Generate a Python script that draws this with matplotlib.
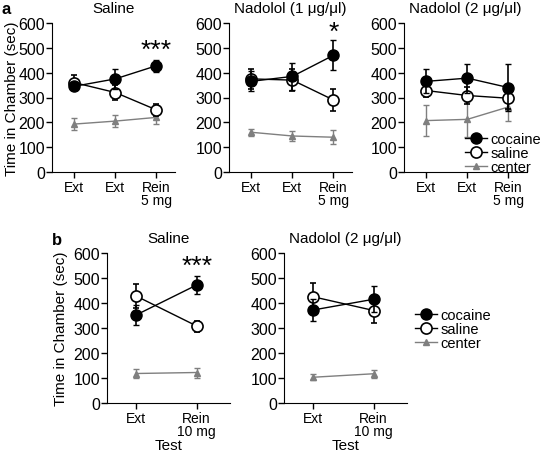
import matplotlib
matplotlib.use('Agg')
import matplotlib.pyplot as plt
from matplotlib.lines import Line2D

plt.rcParams['font.family'] = ['Liberation Sans', 'DejaVu Sans']

# --- data ---
a_ticks = ['Ext', 'Ext', 'Rein\n5 mg']
b_ticks = ['Ext', 'Rein\n10 mg']

a_titles = ['Saline', 'Nadolol (1 \u03bcg/\u03bcl)', 'Nadolol (2 \u03bcg/\u03bcl)']
a_cocaine = [[345, 375, 428], [365, 385, 470], [365, 378, 340]]
a_cocaine_err = [[15, 40, 25], [40, 55, 60], [48, 58, 95]]
a_saline = [[360, 320, 250], [375, 370, 290], [328, 308, 297]]
a_saline_err = [[30, 30, 25], [40, 45, 45], [25, 35, 45]]
a_center = [[193, 205, 220], [160, 145, 140], [207, 212, 262]]
a_center_err = [[25, 25, 25], [15, 20, 28], [62, 70, 58]]
a_stars = ['***', '*', '']
a_star_y = [492, 565, 0]

b_titles = ['Saline', 'Nadolol (2 \u03bcg/\u03bcl)']
b_cocaine = [[352, 472], [372, 415]]
b_cocaine_err = [[40, 35], [45, 52]]
b_saline = [[428, 308], [425, 370]]
b_saline_err = [[48, 22], [55, 50]]
b_center = [[118, 122], [103, 117]]
b_center_err = [[18, 20], [12, 15]]
b_stars = ['***', '']
b_star_y = [548, 0]

W, H = 542, 452
fig = plt.figure(figsize=(W / 100, H / 100), dpi=100)

GRAY = '#7f7f7f'


def panel(rect, title, labels, coc, coc_e, sal, sal_e, cen, cen_e,
          star, star_y, ylabel_x, xlabel, xlim):
    x0, y0, x1, y1 = rect
    ax = fig.add_axes([x0 / W, 1 - y1 / H, (x1 - x0) / W, (y1 - y0) / H])
    xs = list(range(len(labels)))
    ax.errorbar(xs, cen, yerr=cen_e, color=GRAY, marker='^', ms=4,
                lw=1, capsize=2, elinewidth=1, zorder=2)
    ax.errorbar(xs, sal, yerr=sal_e, color='black', marker='o', ms=8,
                mfc='white', mec='black', mew=1.2, lw=1, capsize=2,
                elinewidth=1.2, zorder=3)
    ax.errorbar(xs, coc, yerr=coc_e, color='black', marker='o', ms=8,
                lw=1, capsize=2, elinewidth=1.2, zorder=4)
    ax.set_xlim(*xlim)
    ax.set_ylim(0, 600)
    ax.set_yticks(range(0, 601, 100))
    ax.set_xticks(xs)
    ax.set_xticklabels(labels, fontsize=10, linespacing=0.9)
    ax.tick_params(axis='y', labelsize=11.5, length=4, width=1, pad=1)
    ax.tick_params(axis='x', length=4, width=1, pad=2)
    for s in ('top', 'right'):
        ax.spines[s].set_visible(False)
    ax.set_title(title, fontsize=11, pad=8)
    if star:
        ax.text(xs[-1], star_y, star, ha='center', va='center', fontsize=19)
    if ylabel_x is not None:
        # label anchor is the right-hand edge of the rotated text
        ax.set_ylabel('Time in Chamber (sec)', fontsize=11)
        ax.yaxis.set_label_coords((ylabel_x - x0) / (x1 - x0), 0.5)
    if xlabel:
        ax.set_xlabel('Test', fontsize=11, labelpad=0)
    return ax


a_rects = [(52, 24, 175, 173), (229, 24, 352, 173), (404, 24, 527, 173)]
for i in range(3):
    panel(a_rects[i], a_titles[i], a_ticks, a_cocaine[i], a_cocaine_err[i],
          a_saline[i], a_saline_err[i], a_center[i], a_center_err[i],
          a_stars[i], a_star_y[i], 19 if i == 0 else None, False,
          (-0.54, 2.45))

b_rects = [(107, 254, 230, 404), (284, 254, 407, 404)]
for i in range(2):
    panel(b_rects[i], b_titles[i], b_ticks, b_cocaine[i], b_cocaine_err[i],
          b_saline[i], b_saline_err[i], b_center[i], b_center_err[i],
          b_stars[i], b_star_y[i], 68 if i == 0 else None, True,
          (-0.48, 1.55))

# legends
handles = [
    Line2D([], [], color='black', marker='o', ms=8, lw=1),
    Line2D([], [], color='black', marker='o', ms=8, lw=1, mfc='white', mew=1.2),
    Line2D([], [], color=GRAY, marker='^', ms=4, lw=1),
]
names = ['cocaine', 'saline', 'center']
for (lx, ly) in [(465, 133), (415, 309)]:
    fig.legend(handles, names, loc='upper left',
               bbox_to_anchor=(lx / W, 1 - ly / H), frameon=False,
               fontsize=10.5, handlelength=1.5, handletextpad=0.25,
               labelspacing=0.0, borderpad=0, borderaxespad=0)

fig.text(2 / W, 1 - 9 / H, 'a', fontsize=12, fontweight='bold', va='center')
fig.text(52 / W, 1 - 241 / H, 'b', fontsize=12, fontweight='bold', va='center')

fig.savefig('out.png', dpi=100)
